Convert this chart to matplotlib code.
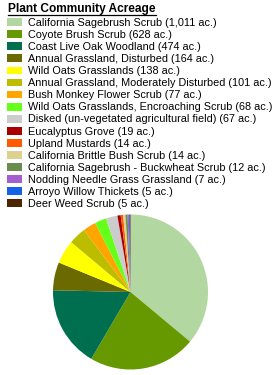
import matplotlib
matplotlib.use('Agg')
import matplotlib.pyplot as plt
from matplotlib.lines import Line2D

labels = ['California Sagebrush Scrub', 'Coyote Brush Scrub', 'Coast Live Oak Woodland',
          'Annual Grassland, Disturbed', 'Wild Oats Grasslands',
          'Annual Grassland, Moderately Disturbed', 'Bush Monkey Flower Scrub',
          'Wild Oats Grasslands, Encroaching Scrub',
          'Disked (un-vegetated agricultural field)', 'Eucalyptus Grove', 'Upland Mustards',
          'California Brittle Bush Scrub', 'California Sagebrush - Buckwheat Scrub',
          'Nodding Needle Grass Grassland', 'Arroyo Willow Thickets', 'Deer Weed Scrub']
acres = [1011, 628, 474, 164, 138, 101, 77, 68, 67, 19, 14, 14, 12, 7, 5, 5]
colors = ['#b3d7a0', '#669900', '#006f4f', '#6b6a00', '#ffff00', '#bdbd00', '#ffa500',
          '#66ff1a', '#cccccc', '#a80000', '#ff5a00', '#ded08e', '#6a8c4e', '#a35fd0',
          '#1462e6', '#4d2600']

plt.rcParams['font.family'] = ['Liberation Sans', 'DejaVu Sans']

W, H = 276, 375
fig = plt.figure(figsize=(W / 100, H / 100), dpi=100)

# pie: center (130.5, 292) px, radius ~77.5 px
r = 77.5
cx, cy = 130.5, 292
ax = fig.add_axes([(cx - r) / W, 1 - (cy + r) / H, 2 * r / W, 2 * r / H])
wedges, _ = ax.pie(acres, colors=colors, startangle=90, counterclock=False,
                   wedgeprops={'linewidth': 0})
ax.set_xlim(-1, 1)
ax.set_ylim(-1, 1)
ax.set_aspect('equal')
ax.axis('off')

leg_labels = ['{} ({:,} ac.)'.format(l, a) for l, a in zip(labels, acres)]
fs = 7.8
px = fs * 100 / 72
leg = fig.legend(wedges, leg_labels, loc='upper left', bbox_to_anchor=(7 / W, 1 - 18 / H),
                 frameon=False, fontsize=fs, borderpad=0, borderaxespad=0,
                 handlelength=15 / px, handleheight=8 / px, handletextpad=6 / px,
                 labelspacing=0.19)

# title, bold + underlined
t = fig.text(8 / W, 1 - 9 / H, 'Plant Community Acreage', fontsize=8.6, fontweight='bold',
             va='center', ha='left')
fig.canvas.draw()
bb = t.get_window_extent().transformed(fig.transFigure.inverted())
fig.add_artist(Line2D([bb.x0, bb.x1], [bb.y0 + 0.5 / H, bb.y0 + 0.5 / H],
                      color='black', lw=0.9, transform=fig.transFigure))

fig.savefig('out.png', dpi=100)
